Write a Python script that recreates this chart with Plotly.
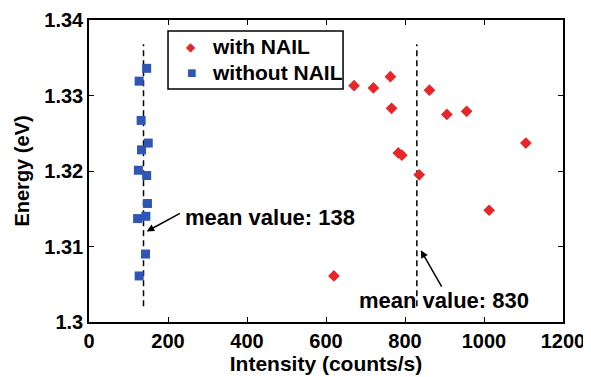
import plotly.graph_objects as go

# data
with_x = [671, 720, 763, 862, 766, 906, 956, 783, 792, 1106, 836, 1013, 620]
with_y = [1.3313, 1.3310, 1.3325, 1.3307, 1.3283, 1.3275, 1.3279, 1.3224, 1.3221, 1.3237, 1.3195, 1.3148, 1.3061]
without_x = [146, 127, 132, 150, 133, 125, 146, 148, 144, 123, 143, 127]
without_y = [1.3336, 1.3319, 1.3267, 1.3237, 1.3228, 1.3201, 1.3194, 1.3157, 1.3140, 1.3137, 1.3090, 1.3061]
mean_without = 138
mean_with = 830
mean_line_y = [1.3021, 1.3368]
x_ticks = [0, 200, 400, 600, 800, 1000, 1200]
y_ticks = [1.30, 1.31, 1.32, 1.33, 1.34]
y_tick_text = ["1.3", "1.31", "1.32", "1.33", "1.34"]
legend_labels = ["with NAIL", "without NAIL"]

FONT = "Liberation Sans, Arial, sans-serif"
RED = "#e8262a"
BLUE = "#2f55b5"
W = "bold"

fig = go.Figure()
fig.add_trace(go.Scatter(x=[mean_without, mean_without], y=mean_line_y, mode="lines",
                         line=dict(color="black", width=1.5, dash="6px,4px"), showlegend=False, hoverinfo="skip"))
fig.add_trace(go.Scatter(x=[mean_with, mean_with], y=mean_line_y, mode="lines",
                         line=dict(color="black", width=1.5, dash="6px,4px"), showlegend=False, hoverinfo="skip"))
fig.add_trace(go.Scatter(x=with_x, y=with_y, mode="markers", name=legend_labels[0], showlegend=False,
                         marker=dict(symbol="diamond", size=9, color=RED)))
fig.add_trace(go.Scatter(x=without_x, y=without_y, mode="markers", name=legend_labels[1], showlegend=False,
                         marker=dict(symbol="square", size=9, color=BLUE)))

# annotations with arrows
fig.add_annotation(x=238, y=1.3139, text="mean value: 138", showarrow=False,
                   xanchor="left", yanchor="middle", font=dict(size=22, color="black", family=FONT, weight=W))
fig.add_annotation(x=146, y=1.3120, ax=234, ay=1.3145, axref="x", ayref="y", text="",
                   showarrow=True, arrowhead=2, arrowsize=1, arrowwidth=1.5, arrowcolor="black")
fig.add_annotation(x=678, y=1.3029, text="mean value: 830", showarrow=False,
                   xanchor="left", yanchor="middle", font=dict(size=22, color="black", family=FONT, weight=W))
fig.add_annotation(x=840, y=1.3095, ax=895, ay=1.3045, axref="x", ayref="y", text="",
                   showarrow=True, arrowhead=2, arrowsize=1, arrowwidth=1.5, arrowcolor="black")

# legend box (drawn manually to match the compact original)
fig.add_shape(type="rect", xref="paper", yref="paper", x0=0.1667, x1=0.536, y0=0.7715, y1=0.9636,
              line=dict(color="black", width=1.5), fillcolor="white", layer="above")
fig.add_annotation(xref="paper", yref="paper", x=0.2553, y=0.9106, text=legend_labels[0], showarrow=False,
                   xanchor="left", yanchor="middle", font=dict(size=21, color="black", family=FONT, weight=W))
fig.add_annotation(xref="paper", yref="paper", x=0.2553, y=0.8278, text=legend_labels[1], showarrow=False,
                   xanchor="left", yanchor="middle", font=dict(size=21, color="black", family=FONT, weight=W))
fig.add_annotation(xref="paper", yref="paper", x=0.2152, y=0.9106, text="\u25c6", showarrow=False,
                   xanchor="center", yanchor="middle", font=dict(size=12, color=RED, family="DejaVu Sans"))
fig.add_annotation(xref="paper", yref="paper", x=0.2152, y=0.8278, text="\u25a0", showarrow=False,
                   xanchor="center", yanchor="middle", font=dict(size=10, color=BLUE, family="DejaVu Sans"))

axis_common = dict(showline=True, linecolor="black", linewidth=1.5, mirror="ticks",
                   ticks="inside", ticklen=5, tickwidth=1.2, tickcolor="black",
                   showgrid=False, zeroline=False, automargin=False,
                   tickfont=dict(size=20, color="black", family=FONT, weight=W))

fig.update_xaxes(range=[0, 1200], tickvals=x_ticks, title=dict(text="Intensity (counts/s)", standoff=0,
                 font=dict(size=21, color="black", family=FONT, weight=W)), **axis_common)
fig.update_yaxes(range=[1.30, 1.34], tickvals=y_ticks, ticktext=y_tick_text,
                 title=dict(text="Energy (eV)", standoff=9, font=dict(size=20, color="black", family=FONT, weight=W)),
                 **axis_common)

# page body has an 8px margin, so the figure is sized to fit the 591x377 window without overflow
fig.update_layout(
    width=583, height=369,
    margin=dict(l=81, r=28, t=12, b=55, autoexpand=False),
    paper_bgcolor="white", plot_bgcolor="white",
    font=dict(family=FONT, color="black"),
    showlegend=False,
)

fig.write_html("out.html")
